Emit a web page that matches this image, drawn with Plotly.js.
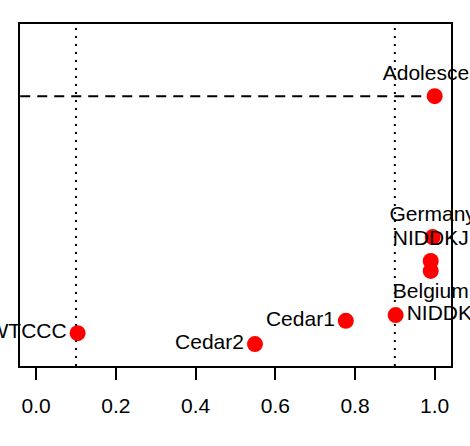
<!DOCTYPE html>
<html>
<head>
<meta charset="utf-8">
<script src="https://cdn.plot.ly/plotly-3.0.1.min.js"></script>
<style>html,body{margin:0;padding:0;background:#fff;}#chart{width:470px;height:446px;}</style>
</head>
<body>
<div id="chart"></div>
<script>
// Data
var studyLabels = ["Adolescent", "Germany", "NIDDKJ", "Belgium", "NIDDK", "Cedar1", "Cedar2", "WTCCC"];
var xValues = [1.0, 0.995, 0.99, 0.99, 0.902, 0.777, 0.549, 0.104];
var yValues = [7.89, 3.77, 3.07, 2.78, 1.49, 1.32, 0.64, 0.96];
var labelPositions = ["top center", "top center", "top center", "bottom center", "middle right", "middle left", "middle left", "middle left"];
var xTicks = [0, 0.2, 0.4, 0.6, 0.8, 1.0];
var xTickLabels = ["0.0", "0.2", "0.4", "0.6", "0.8", "1.0"];
var refLinesX = [0.1, 0.9];

var fontFam = "Liberation Sans, Arial, Helvetica, sans-serif";

var trace = {
  type: "scatter",
  mode: "markers+text",
  x: xValues,
  y: yValues,
  text: studyLabels,
  textposition: labelPositions,
  textfont: {family: fontFam, size: 21, color: "#000"},
  marker: {color: "#ff0000", size: 16, line: {width: 0}},
  cliponaxis: false,
  hoverinfo: "none",
  showlegend: false
};

var shapes = refLinesX.map(function (v) {
  return {type: "line", xref: "x", yref: "paper", x0: v, x1: v, y0: 0, y1: 1,
          line: {color: "#000", width: 2, dash: "2px,6px"}, layer: "below"};
});
shapes.push({type: "line", xref: "x", yref: "y", x0: -0.04, x1: xValues[0], y0: yValues[0], y1: yValues[0],
             line: {color: "#000", width: 2, dash: "10px,7px"}, layer: "below"});

var layout = {
  width: 470, height: 446,
  margin: {l: 19.5, r: 19, t: 24, b: 80, pad: 0},
  paper_bgcolor: "#fff", plot_bgcolor: "#fff",
  font: {family: fontFam, size: 21, color: "#000"},
  xaxis: {
    range: [-0.0406, 1.0409], tickvals: xTicks, ticktext: xTickLabels,
    ticks: "outside", ticklen: 12, tickwidth: 2, tickcolor: "#000",
    showline: true, mirror: true, linecolor: "#000", linewidth: 2,
    showgrid: false, zeroline: false, ticklabelstandoff: 8,
    tickfont: {family: fontFam, size: 21, color: "#000"}
  },
  yaxis: {
    range: [0, 10], showticklabels: false, ticks: "",
    showline: true, mirror: true, linecolor: "#000", linewidth: 2,
    showgrid: false, zeroline: false
  },
  shapes: shapes
};

Plotly.newPlot("chart", [trace], layout, {displayModeBar: false, staticPlot: true});
</script>
</body>
</html>
